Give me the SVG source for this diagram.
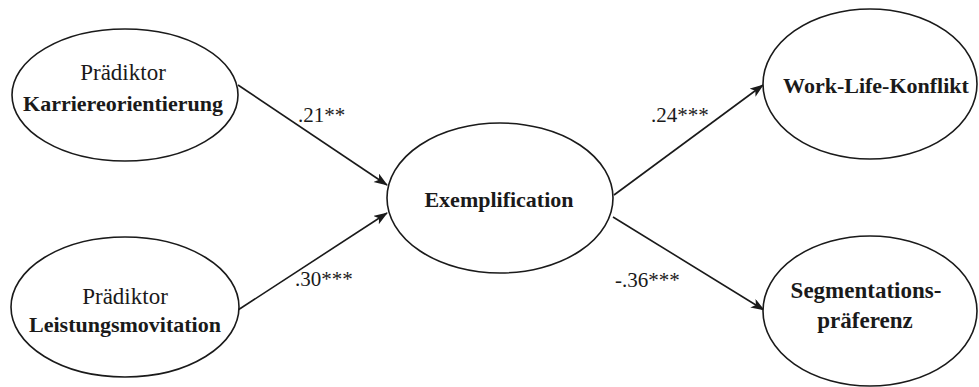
<svg xmlns="http://www.w3.org/2000/svg" width="979" height="387" viewBox="0 0 979 387">
<defs>
<style>
.node ellipse{fill:#fff;stroke:#1a1a1a;stroke-width:1.6}
.t{font-family:"Liberation Serif","Times New Roman",serif;fill:#1a1a1a;text-anchor:middle}
.r{font-size:23px}
.b{font-size:22px;font-weight:bold}
.b2{font-size:23px;font-weight:bold}
.lbl{font-family:"Liberation Serif","Times New Roman",serif;font-size:21px;fill:#1a1a1a}
.edge{stroke:#1a1a1a;stroke-width:1.6;fill:none;marker-end:url(#arr)}
</style>
<marker id="arr" markerWidth="14" markerHeight="12" refX="13" refY="5" orient="auto" markerUnits="userSpaceOnUse">
<path d="M0,0 L14,5 L0,10 L3.5,5 z" fill="#1a1a1a"/>
</marker>
</defs>
<rect width="979" height="387" fill="#fff"/>
<g id="connectors">
<line class="edge" x1="238" y1="85" x2="387" y2="185"/>
<line class="edge" x1="238" y1="310" x2="387" y2="213"/>
<line class="edge" x1="614" y1="195" x2="763" y2="85"/>
<line class="edge" x1="613" y1="217" x2="764" y2="310"/>
<text class="lbl" x="298" y="122">.21**</text>
<text class="lbl" x="295" y="286">.30***</text>
<text class="lbl" x="651" y="122">.24***</text>
<text class="lbl" x="615" y="287">-.36***</text>
</g>
<g id="node-karriere" class="node">
<ellipse cx="125" cy="95" rx="113" ry="66"/>
<text class="t r" x="123" y="80">Prädiktor</text>
<text class="t b" x="123" y="111">Karriereorientierung</text>
</g>
<g id="node-leistung" class="node">
<ellipse cx="125" cy="307" rx="114" ry="70"/>
<text class="t r" x="125" y="304">Prädiktor</text>
<text class="t b" x="125" y="332">Leistungsmovitation</text>
</g>
<g id="node-exemplification" class="node">
<ellipse cx="500" cy="198" rx="113" ry="75"/>
<text class="t b" x="499" y="207">Exemplification</text>
</g>
<g id="node-wlk" class="node">
<ellipse cx="870" cy="84" rx="107" ry="75"/>
<text class="t b" x="876" y="93">Work-Life-Konflikt</text>
</g>
<g id="node-segmentation" class="node">
<ellipse cx="870" cy="311" rx="107" ry="75"/>
<text class="t b2" x="866" y="298">Segmentations-</text>
<text class="t b2" x="865" y="328">präferenz</text>
</g>
</svg>
